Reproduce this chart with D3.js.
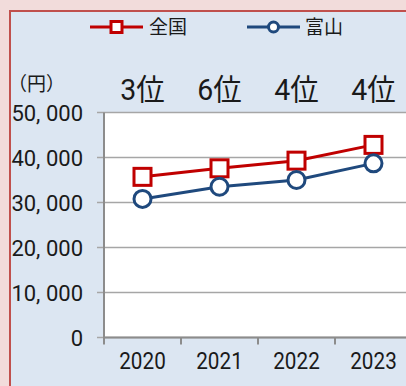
<!DOCTYPE html>
<html>
<head>
<meta charset="utf-8">
<script src="https://cdn.jsdelivr.net/npm/d3@7"></script>
<style>
  html, body { margin: 0; padding: 0; background: #f2dcdb; }
  svg { display: block; }
  text { font-family: Roboto, "Noto Sans CJK JP", sans-serif; fill: #1a1a1a; }
</style>
</head>
<body>
<svg id="chart" width="406" height="386"></svg>
<script>
// Years, values (yen) and Toyama's national rank per year
const years = ["2020", "2021", "2022", "2023"];
const national = [35700, 37600, 39300, 42800];
const toyama = [30800, 33500, 35000, 38700];
const ranks = ["3位", "6位", "4位", "4位"];
const yTicks = [0, 10000, 20000, 30000, 40000, 50000];
const yTickLabels = ["0", "10, 000", "20, 000", "30, 000", "40, 000", "50, 000"];
const seriesNames = ["全国", "富山"];

const svg = d3.select("#chart");
const W = 406, H = 386;

// Panel: pale blue with red frame on top and left
svg.append("rect").attr("x", 10).attr("y", 11).attr("width", W).attr("height", H)
  .attr("fill", "#dce6f2");
svg.append("path").attr("d", `M10,${H} V11 H${W}`)
  .attr("fill", "none").attr("stroke", "#c0504d").attr("stroke-width", 2);

const plot = { left: 104, right: 412, top: 112.5, bottom: 337.5 };

const x = d3.scaleBand().domain(years).range([plot.left, plot.right]);
const y = d3.scaleLinear().domain([0, 50000]).range([plot.bottom, plot.top]);

// Plot background
svg.append("rect").attr("x", plot.left).attr("y", plot.top)
  .attr("width", plot.right - plot.left).attr("height", plot.bottom - plot.top)
  .attr("fill", "#ffffff");

// Horizontal gridlines with short outward ticks
const gridG = svg.append("g");
gridG.selectAll("line").data(yTicks).join("line")
  .attr("x1", plot.left - 7).attr("x2", W)
  .attr("y1", d => y(d)).attr("y2", d => y(d))
  .attr("stroke", "#a6a6a6").attr("stroke-width", 1.6);

// Axis lines
svg.append("line").attr("x1", plot.left).attr("x2", plot.left)
  .attr("y1", plot.top).attr("y2", plot.bottom + 7)
  .attr("stroke", "#8c8c8c").attr("stroke-width", 2);
svg.append("line").attr("x1", plot.left).attr("x2", W)
  .attr("y1", plot.bottom).attr("y2", plot.bottom)
  .attr("stroke", "#8c8c8c").attr("stroke-width", 2);
// Category boundary ticks on the x axis
svg.append("g").selectAll("line").data(years.slice(1)).join("line")
  .attr("x1", d => x(d)).attr("x2", d => x(d))
  .attr("y1", plot.bottom).attr("y2", plot.bottom + 7)
  .attr("stroke", "#8c8c8c").attr("stroke-width", 2);

// Y tick labels
svg.append("g").selectAll("text").data(yTicks).join("text")
  .attr("x", 83).attr("y", d => y(d) + 8)
  .attr("text-anchor", "end").attr("font-size", 22)
  .text((d, i) => yTickLabels[i]);

// X tick labels
svg.append("g").selectAll("text").data(years).join("text")
  .attr("transform", d => `translate(${x(d) + x.bandwidth() / 2},369) scale(0.9,1)`)
  .attr("text-anchor", "middle").attr("font-size", 23)
  .text(d => d);

// Rank labels above the plot
svg.append("g").selectAll("text").data(years).join("text")
  .attr("transform", d => `translate(${x(d) + x.bandwidth() / 2},100) scale(0.95,1)`)
  .attr("text-anchor", "middle").attr("font-size", 30)
  .text((d, i) => ranks[i]);

// Unit label
svg.append("text").attr("x", 8).attr("y", 91).attr("font-size", 19)
  .text("（円）");

const cx = d => x(d) + x.bandwidth() / 2;
const line = d3.line().x((d, i) => cx(years[i])).y(d => y(d));

const RED = "#c00000", BLUE = "#1f497d";

// National series: line with square markers
svg.append("path").datum(national).attr("d", line)
  .attr("fill", "none").attr("stroke", RED).attr("stroke-width", 3);
svg.append("g").selectAll("rect").data(national).join("rect")
  .attr("x", (d, i) => cx(years[i]) - 8.5).attr("y", d => y(d) - 8.5)
  .attr("width", 17).attr("height", 17)
  .attr("fill", "#fff").attr("stroke", RED).attr("stroke-width", 3);

// Toyama series: line with circle markers
svg.append("path").datum(toyama).attr("d", line)
  .attr("fill", "none").attr("stroke", BLUE).attr("stroke-width", 3);
svg.append("g").selectAll("circle").data(toyama).join("circle")
  .attr("cx", (d, i) => cx(years[i])).attr("cy", d => y(d))
  .attr("r", 8.5)
  .attr("fill", "#fff").attr("stroke", BLUE).attr("stroke-width", 3);

// Legend
const legend = svg.append("g");
const leg1 = legend.append("g").attr("transform", "translate(90,27)");
leg1.append("line").attr("x1", 0).attr("x2", 53).attr("stroke", RED).attr("stroke-width", 3);
leg1.append("rect").attr("x", 21).attr("y", -5.5).attr("width", 11).attr("height", 11)
  .attr("fill", "#fff").attr("stroke", RED).attr("stroke-width", 3);
leg1.append("text").attr("x", 59).attr("y", 7).attr("font-size", 19).text(seriesNames[0]);

const leg2 = legend.append("g").attr("transform", "translate(247,27)");
leg2.append("line").attr("x1", 0).attr("x2", 53).attr("stroke", BLUE).attr("stroke-width", 3);
leg2.append("circle").attr("cx", 26.5).attr("cy", 0).attr("r", 5)
  .attr("fill", "#fff").attr("stroke", BLUE).attr("stroke-width", 3);
leg2.append("text").attr("x", 58).attr("y", 7).attr("font-size", 19).text(seriesNames[1]);
</script>
</body>
</html>
